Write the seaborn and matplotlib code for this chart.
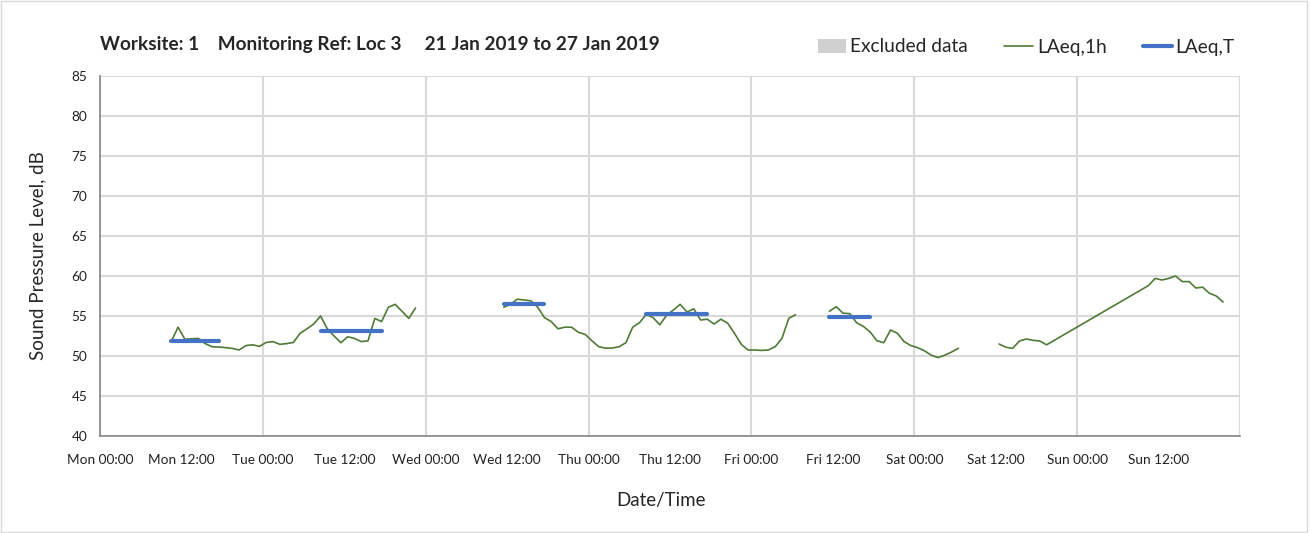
"""Noise monitoring chart: hourly LAeq with period LAeq,T levels."""

import numpy as np
import pandas as pd
import matplotlib
matplotlib.use("Agg")
import matplotlib.pyplot as plt
import matplotlib.dates as mdates
from matplotlib.patches import Patch, Rectangle
from matplotlib.lines import Line2D
import seaborn as sns

# ---- data (hours after Mon 21 Jan 2019 00:00) ----
week_start = pd.Timestamp("2019-01-21 00:00")

# LAeq,1h hourly runs, each given as start hour + values
mon_tue_start = 10.5
mon_tue = [51.8, 53.6, 52.1, 52.15, 52.2, 51.55, 51.16, 51.12, 51.05, 50.95,
           50.75, 51.3, 51.4, 51.2, 51.7, 51.8, 51.46, 51.55, 51.7, 52.85,
           53.4, 54.0, 55.0, 53.4, 52.5, 51.66, 52.4, 52.2, 51.8, 51.9,
           54.7, 54.3, 56.1, 56.46, 55.6, 54.7, 56.0]

wed_fri_start = 59.5
wed_fri = [56.1, 56.46, 57.1, 57.0, 56.9, 56.1, 54.8, 54.3, 53.4, 53.6,
           53.6, 52.96, 52.7, 51.9, 51.16, 50.98, 51.0, 51.16, 51.66, 53.6,
           54.16, 55.2, 54.8, 53.9, 55.1, 55.75, 56.46, 55.5, 55.9, 54.5,
           54.6, 54.0, 54.6, 54.1, 52.84, 51.46, 50.75, 50.75, 50.7, 50.75,
           51.16, 52.2, 54.7, 55.16]

fri_sat_start = 107.5
fri_sat = [55.6, 56.16, 55.35, 55.3, 54.16, 53.7, 53.0, 51.9, 51.66, 53.25,
           52.85, 51.8, 51.3, 51.04, 50.65, 50.1, 49.8, 50.1, 50.5, 50.96]

sat_start = 132.5
sat = [51.5, 51.09, 50.96, 51.875, 52.125, 51.96, 51.875, 51.4]

sun_start = 154.5
sun = [58.8, 59.7, 59.5, 59.7, 60.0, 59.3, 59.3, 58.5, 58.6, 57.84, 57.5, 56.75]

# LAeq,T period levels
laeqT_start = [10.5, 32.5, 59.5, 80.5, 107.5]
laeqT_end = [17.5, 41.5, 65.5, 89.5, 113.5]
laeqT_level = [51.9, 53.15, 56.5, 55.25, 54.9]

title = "Worksite: 1    Monitoring Ref: Loc 3     21 Jan 2019 to 27 Jan 2019"

GREEN = "#4f7a35"
BLUE = "#4472c4"
GRID = "#d9d9d9"
AXIS = "#868686"


def run(start, values, unit):
    hours = start + np.arange(len(values))
    return pd.DataFrame({
        "time": week_start + pd.to_timedelta(hours, unit="h"),
        "level": values,
        "run": unit,
    })


# sat and sun share a run id: the gap between them is bridged by a line
hourly = pd.concat([
    run(mon_tue_start, mon_tue, 1),
    run(wed_fri_start, wed_fri, 2),
    run(fri_sat_start, fri_sat, 3),
    run(sat_start, sat, 4),
    run(sun_start, sun, 4),
], ignore_index=True)

periods = pd.DataFrame({
    "time": week_start + pd.to_timedelta(laeqT_start + laeqT_end, unit="h"),
    "level": laeqT_level * 2,
    "run": list(range(5)) * 2,
})

sns.set_theme(style="white")
plt.rcParams["font.family"] = ["Lato", "DejaVu Sans"]

fig = plt.figure(figsize=(13.1, 5.33), dpi=100)
ax = fig.add_axes([100 / 1310, 1 - 436 / 533, 1140 / 1310, 360 / 533])

sns.lineplot(data=hourly, x="time", y="level", units="run", estimator=None,
             color=GREEN, linewidth=1.2, legend=False, ax=ax, sort=False)
sns.lineplot(data=periods, x="time", y="level", units="run", estimator=None,
             color=BLUE, linewidth=3, legend=False, ax=ax)

# axes
week_end = week_start + pd.Timedelta(days=7)
ax.set_xlim(week_start, week_end)
ax.set_ylim(40, 85)
ax.set_yticks(np.arange(40, 86, 5))

ax.xaxis.set_major_locator(mdates.DayLocator())
ax.xaxis.set_minor_locator(mdates.HourLocator(byhour=[12]))
end_num = mdates.date2num(week_end)


def fmt(v, pos):
    if v >= end_num - 1e-6:
        return ""
    return mdates.num2date(v).strftime("%a %H:%M")


ax.xaxis.set_major_formatter(plt.FuncFormatter(fmt))
ax.xaxis.set_minor_formatter(plt.FuncFormatter(fmt))

ax.grid(True, which="major", color=GRID, linewidth=1.5)
ax.set_axisbelow(True)
for side in ("top", "right"):
    ax.spines[side].set_visible(False)
for side in ("left", "bottom"):
    ax.spines[side].set_color(AXIS)
    ax.spines[side].set_linewidth(1.2)

ax.tick_params(axis="both", which="both", direction="out", length=5,
               color=AXIS, labelsize=9.8, labelcolor="#222222", pad=4)
ax.tick_params(axis="x", which="both", pad=8)

ax.set_xlabel("Date/Time", fontsize=13.5)
ax.xaxis.set_label_coords(561 / 1140, -0.178)
ax.xaxis.label.set_va("center")
ax.set_ylabel("Sound Pressure Level, dB", fontsize=13.5, labelpad=18)

# title and legend
fig.text(100 / 1310, 1 - 45 / 533, title, fontsize=13.7, fontweight="bold",
         va="center", ha="left")

handles = [
    Patch(facecolor="#d0d0d0", edgecolor="none", label="Excluded data"),
    Line2D([], [], color=GREEN, linewidth=1.2, label="LAeq,1h"),
    Line2D([], [], color=BLUE, linewidth=3, label="LAeq,T"),
]
fig.legend(handles=handles, loc="center right",
           bbox_to_anchor=(1252 / 1310, 1 - 47 / 533), ncol=3, frameon=False,
           fontsize=13.8, handlelength=1.5, handletextpad=0.2, columnspacing=1.9)

fig.patches.append(Rectangle((0.001, 0.001), 0.997, 0.997,
                             transform=fig.transFigure, fill=False,
                             edgecolor=GRID, linewidth=1))

fig.savefig("out.png", dpi=100)
plt.close(fig)
